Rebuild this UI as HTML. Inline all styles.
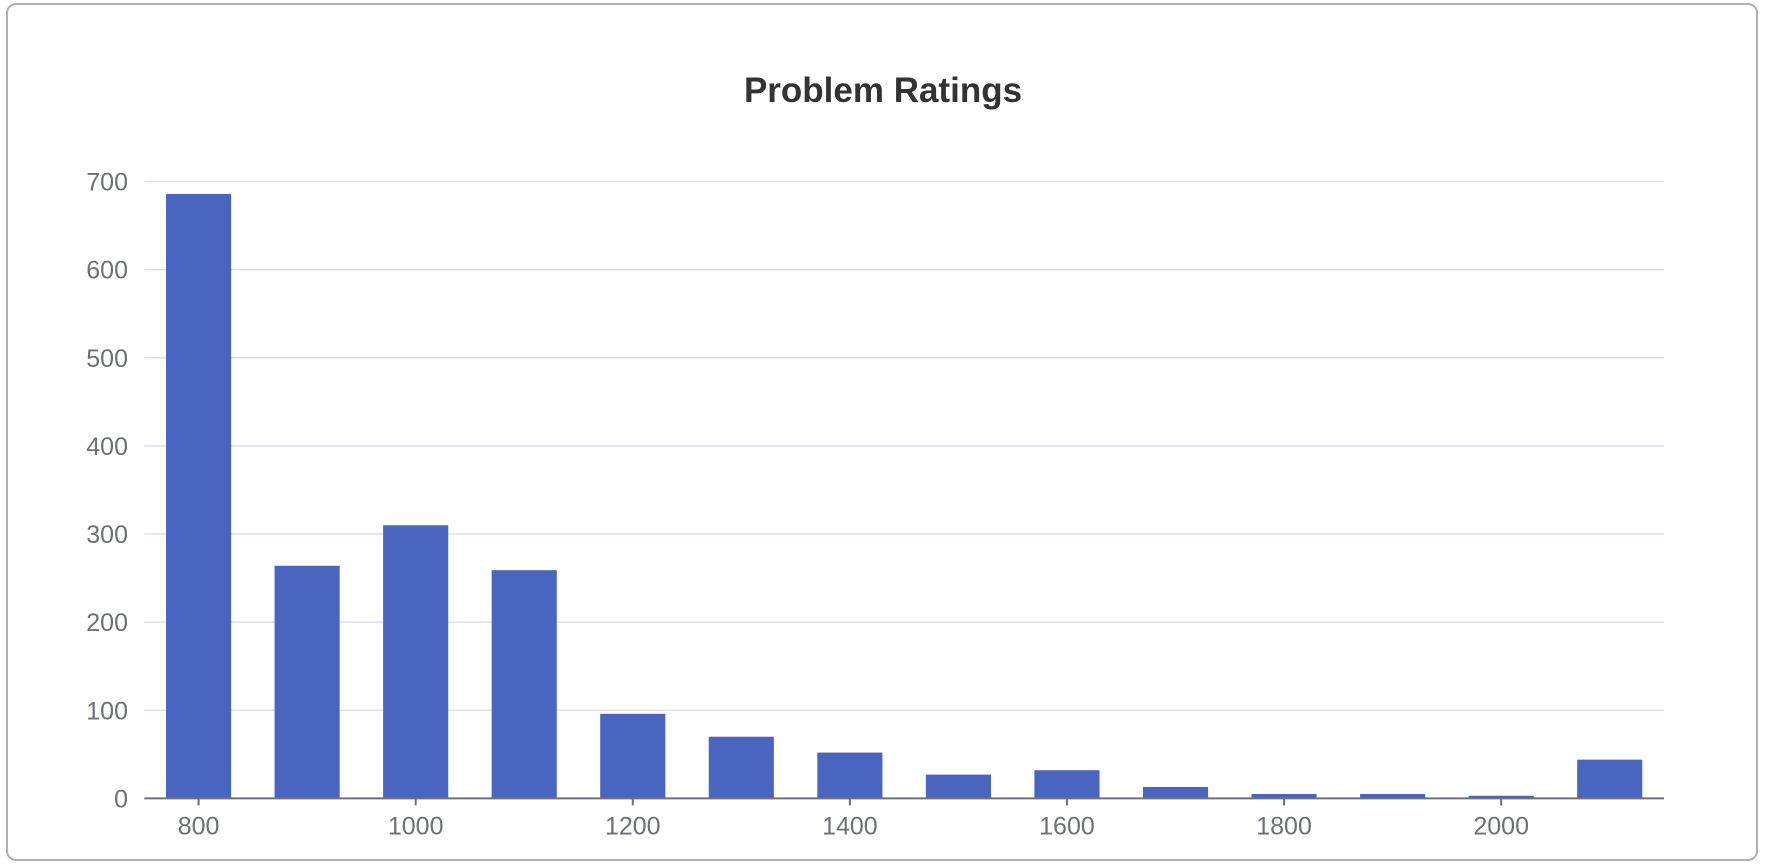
<!DOCTYPE html>
<html><head><meta charset="utf-8"><style>
html,body{margin:0;padding:0;background:#fff;}
body{width:1766px;height:868px;position:relative;overflow:hidden;font-family:"Liberation Sans",sans-serif;}
#card{position:absolute;left:6px;top:3px;width:1752px;height:858px;border:2px solid #b0b0b0;border-radius:10px;box-sizing:border-box;}
</style></head><body>
<div id="card"></div>
<svg id="chart" width="1766" height="868" style="position:absolute;left:0;top:0">
<text x="883" y="102" text-anchor="middle" font-size="35" font-weight="bold" fill="#333" font-family="Liberation Sans, sans-serif">Problem Ratings</text>
</svg>
<script>
const categories=[800,900,1000,1100,1200,1300,1400,1500,1600,1700,1800,1900,2000,2100];
const values=[686,264,310,259,96,70,52,27,32,13,5,5,3,44];
const yTicks=[0,100,200,300,400,500,600,700];
const xLabels=["800","1000","1200","1400","1600","1800","2000"];
const svg=document.getElementById('chart');
const NS='http://www.w3.org/2000/svg';
const x0=144.3,x1=1664,y0=798.4,yTop=181.6,yMax=700;
const step=(x1-x0)/categories.length;
function xc(i){return x0+step*(i+0.5);}
function y(v){return y0-(v/yMax)*(y0-yTop);}
function mk(t,a){const e=document.createElementNS(NS,t);for(const k in a)e.setAttribute(k,a[k]);svg.appendChild(e);return e;}
yTicks.forEach(v=>{
  if(v>0){const g=mk('line',{x1:x0,x2:x1,y1:y(v),y2:y(v),stroke:'#dde1ea','stroke-width':1.5});
  
  }
  const t=mk('text',{x:128,y:y(v)+9,'text-anchor':'end','font-size':25,fill:'#6e7079'});
  t.textContent=v;
  
  
});
const bw=step*0.6;
categories.forEach((c,i)=>{
  const r=mk('rect',{x:xc(i)-bw/2,y:y(values[i]),width:bw,height:y0-y(values[i]),fill:'#4a65c0'});
  
  
});
const ax=mk('line',{x1:x0,x2:x1,y1:y0,y2:y0,stroke:'#6e7079','stroke-width':2});


xLabels.forEach(l=>{
  const i=categories.indexOf(+l);
  const tk=mk('line',{x1:xc(i),x2:xc(i),y1:y0,y2:y0+7,stroke:'#6e7079','stroke-width':2});
  
  
  const t=mk('text',{x:xc(i),y:y0+36,'text-anchor':'middle','font-size':25,fill:'#6e7079'});
  t.textContent=l;
  
  
});
</script>
</body></html>
